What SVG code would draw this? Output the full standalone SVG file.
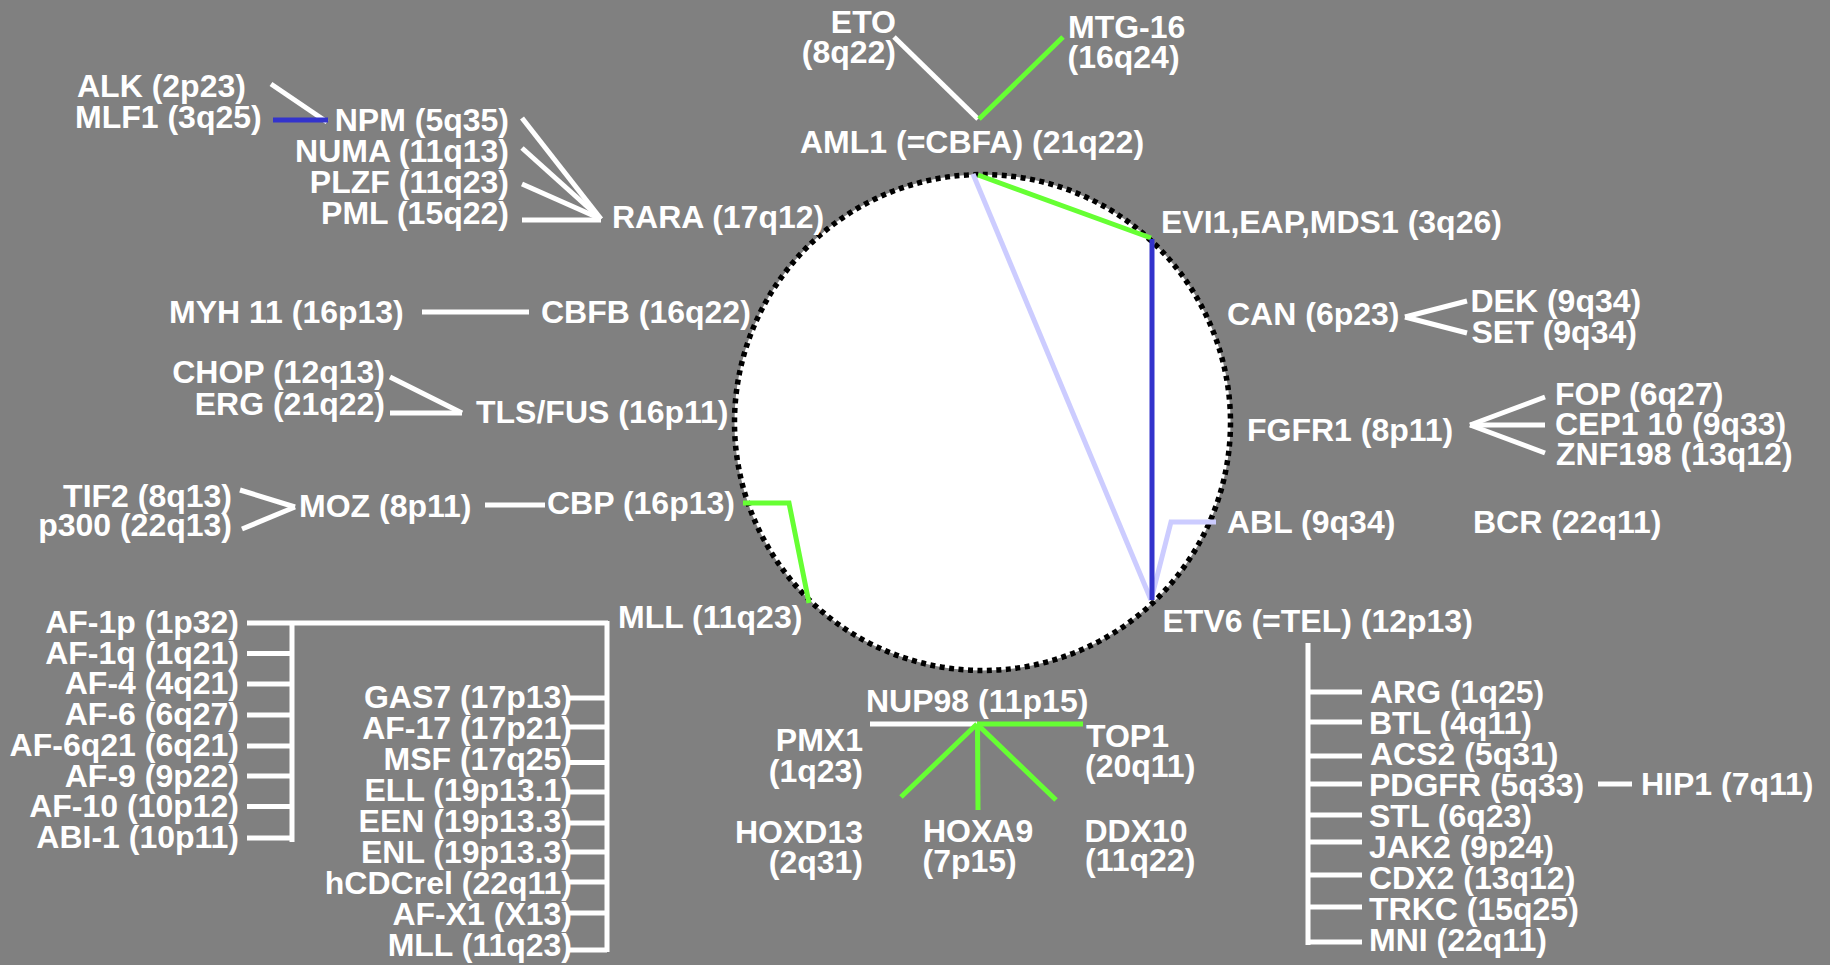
<svg xmlns="http://www.w3.org/2000/svg" width="1830" height="965" viewBox="0 0 1830 965">
<style>
text{font-family:"Liberation Sans",Arial,sans-serif;font-weight:bold;font-size:32px;fill:#ffffff}
.e{text-anchor:end}
.w{stroke:#ffffff;stroke-width:5;fill:none}
.g{stroke:#66ff33;stroke-width:5;fill:none}
.b{stroke:#3333cc;stroke-width:5;fill:none}
.l{stroke:#ccccff;stroke-width:5;fill:none}
</style>
<rect x="0" y="0" width="1830" height="965" fill="#808080"/>
<g id="circle"><circle cx="982.5" cy="422.5" r="248" fill="#ffffff" stroke="#000000" stroke-width="5.5" stroke-dasharray="5 4.5"/></g>
<g id="connectors">
<line class="w" x1="894" y1="37" x2="978" y2="119"/>
<line class="g" x1="979" y1="119" x2="1063" y2="37"/>
<line class="w" x1="271" y1="84" x2="327" y2="122"/>
<line class="b" x1="273" y1="120" x2="328" y2="120" stroke-width="6"/>
<line class="w" x1="522" y1="118" x2="601" y2="219"/>
<line class="w" x1="522" y1="148" x2="601" y2="219"/>
<line class="w" x1="522" y1="184" x2="601" y2="219"/>
<line class="w" x1="522" y1="220" x2="601" y2="220"/>
<line class="w" x1="422" y1="312" x2="529" y2="312"/>
<line class="w" x1="390" y1="377" x2="462" y2="413"/>
<line class="w" x1="390" y1="413" x2="462" y2="413"/>
<line class="w" x1="240" y1="490" x2="295" y2="507"/>
<line class="w" x1="242" y1="529" x2="295" y2="507"/>
<line class="w" x1="485" y1="505" x2="545" y2="505"/>
<polyline class="g" points="743,503 789,503 809,603"/>
<line class="l" x1="973" y1="174" x2="1151" y2="600"/>
<polyline class="l" points="1151,600 1171,522 1216,522"/>
<line class="g" x1="978" y1="175" x2="1151" y2="238"/>
<line class="b" x1="1152" y1="239" x2="1152" y2="600" stroke-width="4"/>
<path class="w" d="M247,623 H608 M292,623 V842 M247,653.5 H292 M247,684 H292 M247,715 H292 M247,746 H292 M247,776 H292 M247,806.5 H292 M247,838 H292"/>
<path class="w" d="M607,621 V952 M568,698 H607 M568,727 H607 M568,762.5 H607 M568,792 H607 M568,823 H607 M568,852 H607 M568,882 H607 M568,913 H607 M568,950 H607"/>
<line class="w" x1="870" y1="724" x2="977" y2="724"/>
<line class="g" x1="977" y1="724" x2="1083" y2="724"/>
<line class="g" x1="977" y1="724" x2="901" y2="797"/>
<line class="g" x1="977.5" y1="724" x2="978" y2="810"/>
<line class="g" x1="977" y1="724" x2="1056" y2="800"/>
<line class="w" x1="1405" y1="317" x2="1467" y2="301"/>
<line class="w" x1="1405" y1="317" x2="1467" y2="333"/>
<line class="w" x1="1470" y1="425" x2="1545" y2="397"/>
<line class="w" x1="1470" y1="425" x2="1545" y2="425"/>
<line class="w" x1="1470" y1="425" x2="1545" y2="453"/>
<path class="w" d="M1308,643 V945 M1310,692 H1362 M1310,722 H1362 M1310,756 H1362 M1310,784 H1362 M1310,815 H1362 M1310,842 H1362 M1310,875 H1362 M1310,907 H1362 M1310,942 H1362" stroke-width="4"/>
<line class="w" x1="1598" y1="784" x2="1632" y2="784"/>
</g>
<g id="eto"><text class="e" x="896" y="33">ETO</text><text class="e" x="896" y="63">(8q22)</text></g>
<g id="mtg16"><text x="1068" y="38">MTG-16</text><text x="1067.5" y="68">(16q24)</text></g>
<g id="aml1"><text x="800" y="153">AML1 (=CBFA) (21q22)</text></g>
<g id="alk"><text x="77" y="97">ALK (2p23)</text></g>
<g id="mlf1"><text x="75" y="128">MLF1 (3q25)</text></g>
<g id="npm"><text class="e" x="509" y="131">NPM (5q35)</text></g>
<g id="numa"><text class="e" x="509" y="162">NUMA (11q13)</text></g>
<g id="plzf"><text class="e" x="509" y="193">PLZF (11q23)</text></g>
<g id="pml"><text class="e" x="509" y="224">PML (15q22)</text></g>
<g id="rara"><text x="612" y="228">RARA (17q12)</text></g>
<g id="myh11"><text x="169" y="323">MYH 11 (16p13)</text></g>
<g id="cbfb"><text x="541" y="323">CBFB (16q22)</text></g>
<g id="chop"><text class="e" x="385" y="383">CHOP (12q13)</text></g>
<g id="erg"><text class="e" x="385" y="415">ERG (21q22)</text></g>
<g id="tlsfus"><text x="476" y="423">TLS/FUS (16p11)</text></g>
<g id="tif2"><text class="e" x="232" y="507">TIF2 (8q13)</text></g>
<g id="p300"><text class="e" x="232" y="536">p300 (22q13)</text></g>
<g id="moz"><text x="299" y="517">MOZ (8p11)</text></g>
<g id="cbp"><text x="547" y="514">CBP (16p13)</text></g>
<g id="mll"><text x="618" y="628">MLL (11q23)</text></g>
<g id="mll-partners-left">
<text class="e" x="239" y="633">AF-1p (1p32)</text>
<text class="e" x="239" y="663.7">AF-1q (1q21)</text>
<text class="e" x="239" y="694.4">AF-4 (4q21)</text>
<text class="e" x="239" y="725.1">AF-6 (6q27)</text>
<text class="e" x="239" y="755.8">AF-6q21 (6q21)</text>
<text class="e" x="239" y="786.5">AF-9 (9p22)</text>
<text class="e" x="239" y="817.2">AF-10 (10p12)</text>
<text class="e" x="239" y="847.9">ABI-1 (10p11)</text>
</g>
<g id="mll-partners-right">
<text class="e" x="572" y="708">GAS7 (17p13)</text>
<text class="e" x="572" y="739">AF-17 (17p21)</text>
<text class="e" x="572" y="770">MSF (17q25)</text>
<text class="e" x="572" y="801">ELL (19p13.1)</text>
<text class="e" x="572" y="832">EEN (19p13.3)</text>
<text class="e" x="572" y="863">ENL (19p13.3)</text>
<text class="e" x="572" y="894">hCDCrel (22q11)</text>
<text class="e" x="572" y="925">AF-X1 (X13)</text>
<text class="e" x="572" y="956">MLL (11q23)</text>
</g>
<g id="nup98"><text x="866" y="712">NUP98 (11p15)</text></g>
<g id="pmx1"><text class="e" x="863" y="751">PMX1</text><text class="e" x="863" y="782">(1q23)</text></g>
<g id="top1"><text x="1086" y="747">TOP1</text><text x="1085" y="777">(20q11)</text></g>
<g id="hoxd13"><text class="e" x="863" y="843">HOXD13</text><text class="e" x="863" y="873">(2q31)</text></g>
<g id="hoxa9"><text x="923" y="842">HOXA9</text><text x="922.5" y="872">(7p15)</text></g>
<g id="ddx10"><text x="1084.5" y="842">DDX10</text><text x="1085" y="871">(11q22)</text></g>
<g id="evi1"><text x="1161" y="233">EVI1,EAP,MDS1 (3q26)</text></g>
<g id="can"><text x="1227" y="325">CAN (6p23)</text></g>
<g id="dek"><text x="1470.5" y="312">DEK (9q34)</text></g>
<g id="set"><text x="1471.5" y="343">SET (9q34)</text></g>
<g id="fgfr1"><text x="1247" y="441">FGFR1 (8p11)</text></g>
<g id="fop"><text x="1555" y="405">FOP (6q27)</text></g>
<g id="cep110"><text x="1555" y="435">CEP1 10 (9q33)</text></g>
<g id="znf198"><text x="1556" y="465">ZNF198 (13q12)</text></g>
<g id="abl"><text x="1227" y="533">ABL (9q34)</text></g>
<g id="bcr"><text x="1473" y="533">BCR (22q11)</text></g>
<g id="etv6"><text x="1162.5" y="632">ETV6 (=TEL) (12p13)</text></g>
<g id="etv6-partners">
<text x="1370" y="703">ARG (1q25)</text>
<text x="1369" y="734">BTL (4q11)</text>
<text x="1370" y="765">ACS2 (5q31)</text>
<text x="1369" y="796">PDGFR (5q33)</text>
<text x="1369" y="827">STL (6q23)</text>
<text x="1369" y="858">JAK2 (9p24)</text>
<text x="1369" y="889">CDX2 (13q12)</text>
<text x="1369" y="920">TRKC (15q25)</text>
<text x="1369" y="951">MNI (22q11)</text>
</g>
<g id="hip1"><text x="1641" y="795">HIP1 (7q11)</text></g>
</svg>
